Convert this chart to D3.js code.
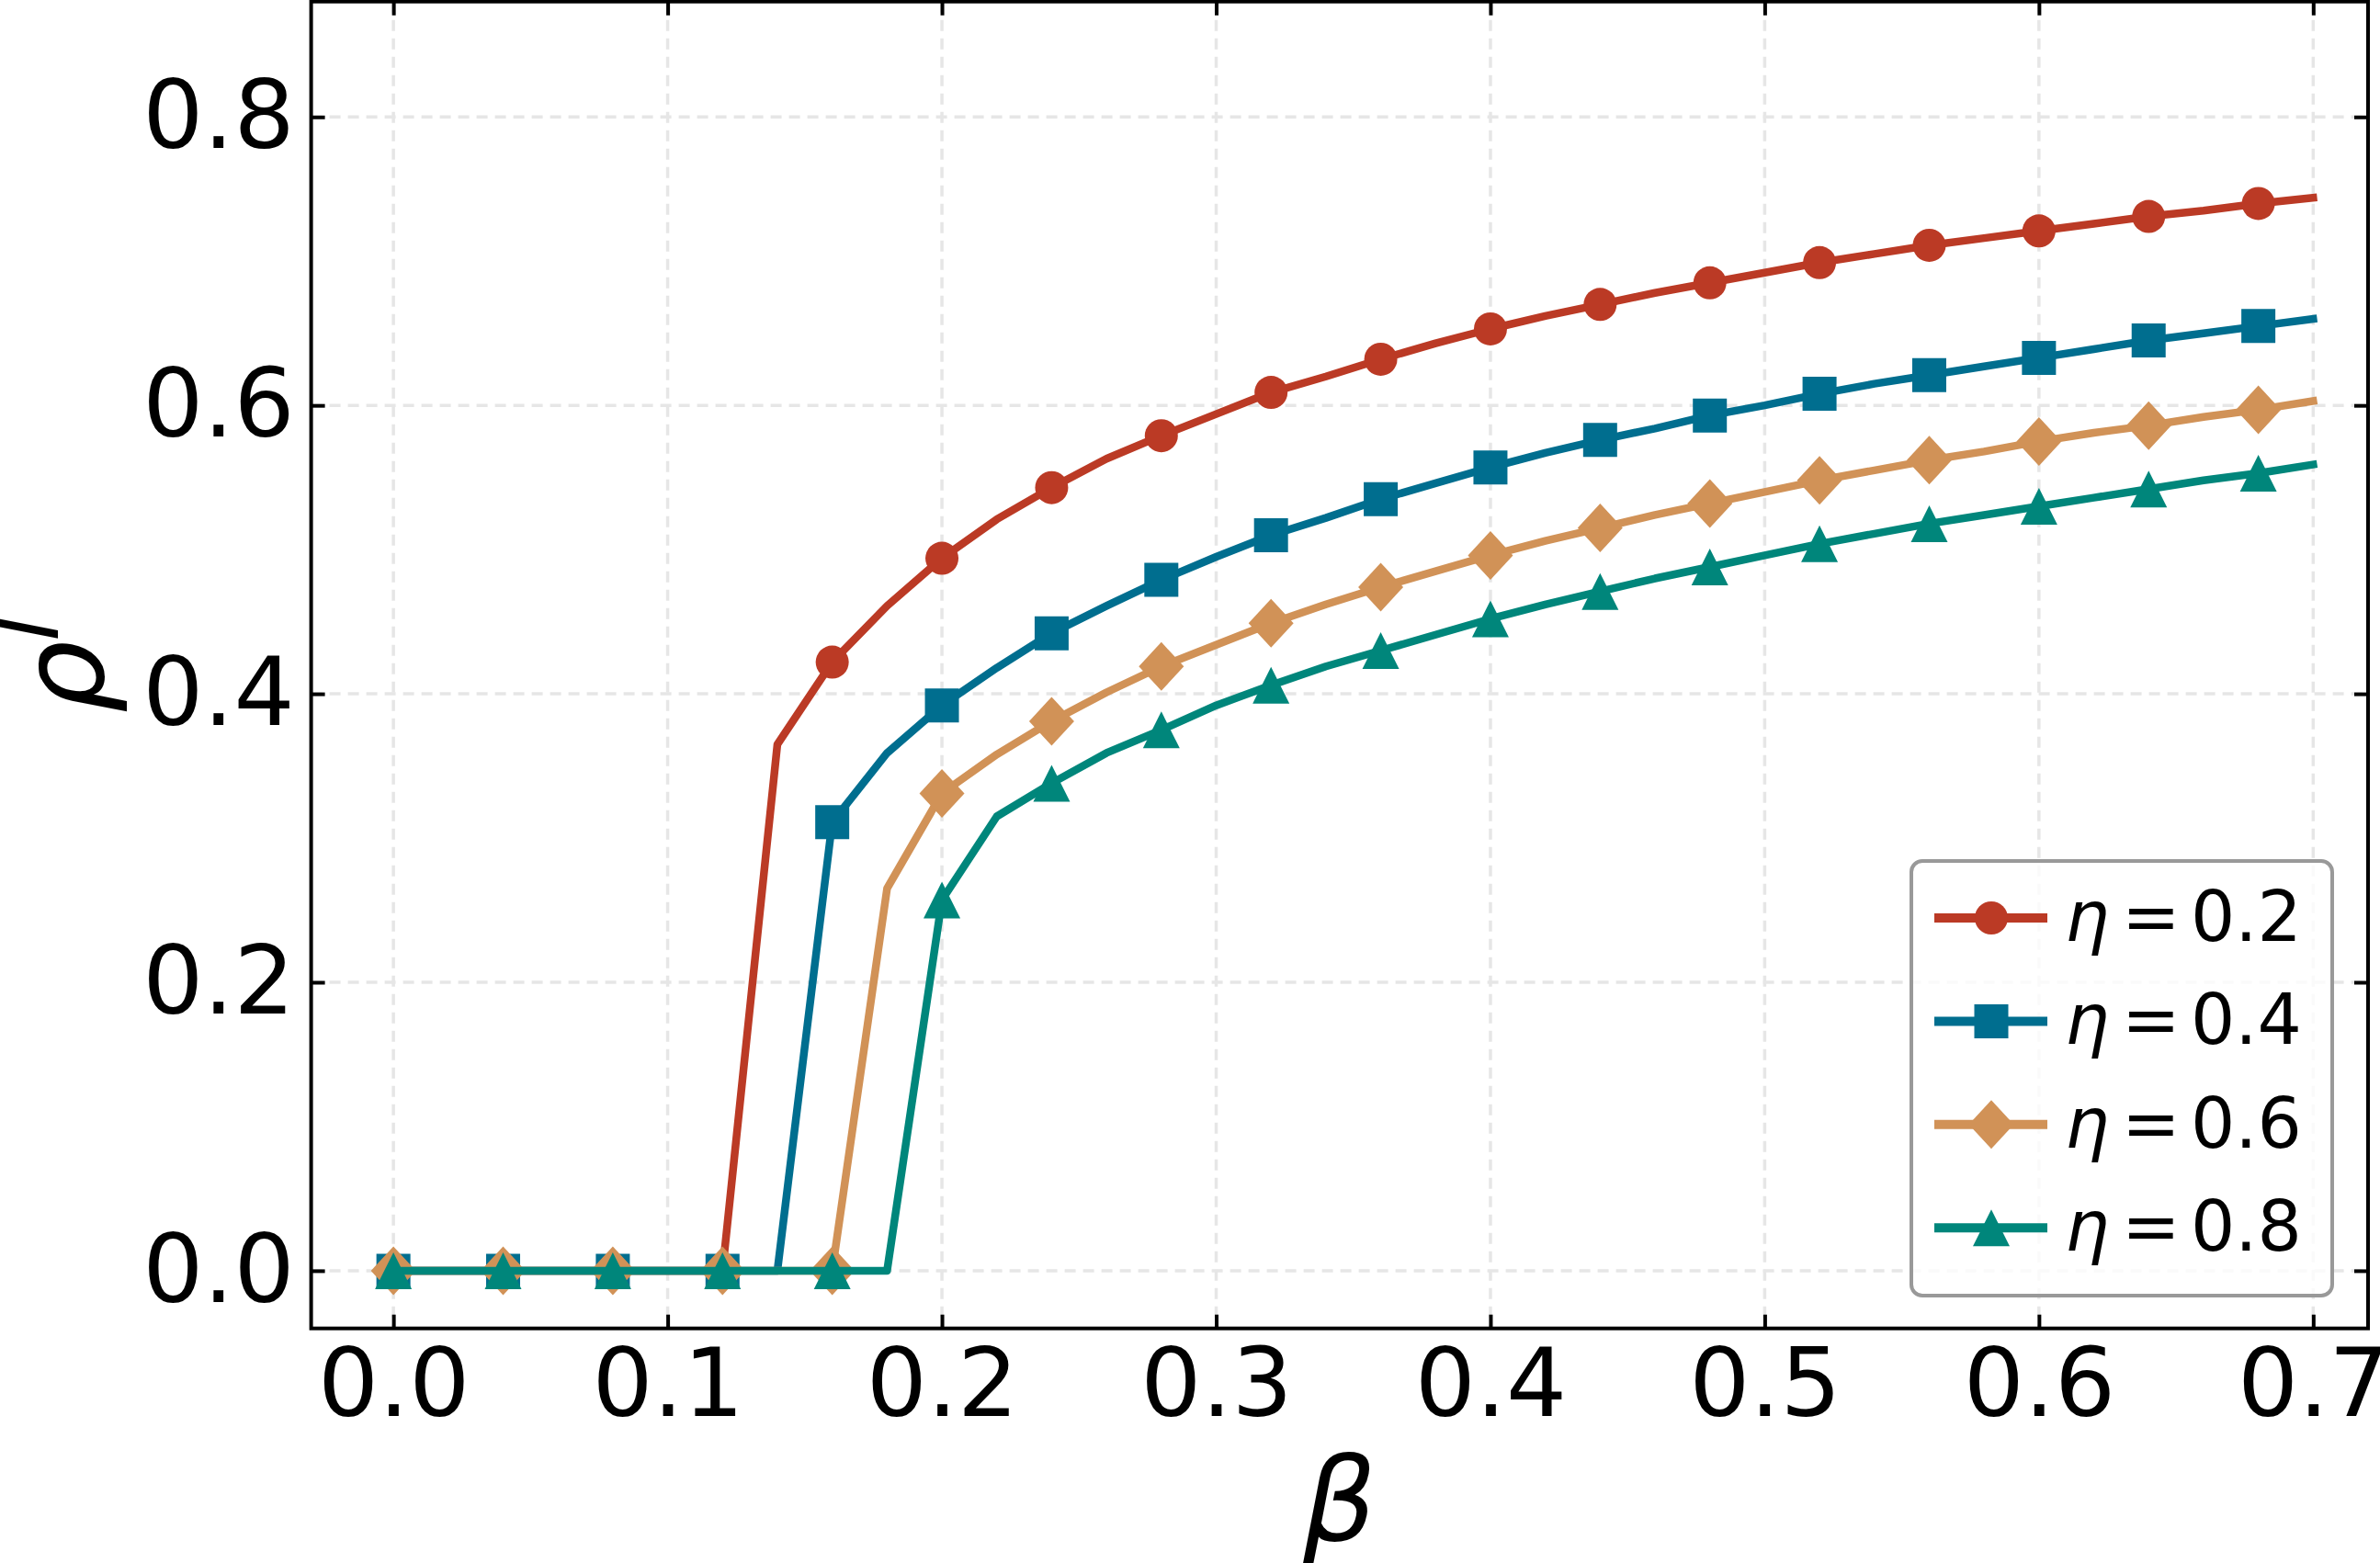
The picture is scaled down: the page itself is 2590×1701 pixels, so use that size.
<!DOCTYPE html>
<html>
<head>
<meta charset="utf-8">
<script src="https://cdn.jsdelivr.net/npm/d3@7"></script>
<style>
  body { margin: 0; background: #fff; }
  svg { display: block; font-family: "DejaVu Sans", sans-serif; }
</style>
</head>
<body>
<div id="chart"></div>
<script>
// beta values (x) and rho^I for each eta
const betaVals = [0.00, 0.02, 0.04, 0.06, 0.08, 0.10, 0.12, 0.14, 0.16, 0.18,
                  0.20, 0.22, 0.24, 0.26, 0.28, 0.30, 0.32, 0.34, 0.36, 0.38,
                  0.40, 0.42, 0.44, 0.46, 0.48, 0.50, 0.52, 0.54, 0.56, 0.58,
                  0.60, 0.62, 0.64, 0.66, 0.68, 0.70];
const rhoEta02 = [0, 0, 0, 0, 0, 0, 0, 0.365, 0.422, 0.461,
                  0.494, 0.521, 0.543, 0.563, 0.579, 0.594, 0.609, 0.620, 0.632, 0.643,
                  0.653, 0.662, 0.670, 0.678, 0.685, 0.692, 0.699, 0.705, 0.711, 0.716,
                  0.721, 0.726, 0.731, 0.735, 0.740, 0.744];
const rhoEta04 = [0, 0, 0, 0, 0, 0, 0, 0, 0.311, 0.359,
                  0.392, 0.418, 0.442, 0.461, 0.479, 0.495, 0.510, 0.522, 0.535, 0.546,
                  0.557, 0.567, 0.576, 0.584, 0.593, 0.600, 0.608, 0.615, 0.621, 0.627,
                  0.633, 0.639, 0.645, 0.650, 0.655, 0.660];
const rhoEta06 = [0, 0, 0, 0, 0, 0, 0, 0, 0, 0.265,
                  0.331, 0.358, 0.381, 0.401, 0.419, 0.434, 0.449, 0.462, 0.474, 0.485,
                  0.496, 0.506, 0.515, 0.524, 0.532, 0.540, 0.548, 0.555, 0.562, 0.568,
                  0.575, 0.581, 0.586, 0.592, 0.597, 0.603];
const rhoEta08 = [0, 0, 0, 0, 0, 0, 0, 0, 0, 0,
                  0.257, 0.315, 0.338, 0.359, 0.375, 0.392, 0.406, 0.419, 0.430, 0.441,
                  0.452, 0.462, 0.471, 0.480, 0.488, 0.496, 0.504, 0.511, 0.518, 0.524,
                  0.530, 0.536, 0.542, 0.548, 0.553, 0.559];
const etaLabels = ["0.2", "0.4", "0.6", "0.8"];
const seriesColors = ["#bb3a25", "#006e8f", "#d19257", "#00867b"];
const markerKinds = ["circle", "square", "diamond", "triangle"];
const xTicks = [0, 0.1, 0.2, 0.3, 0.4, 0.5, 0.6, 0.7];
const yTicks = [0, 0.2, 0.4, 0.6, 0.8];

const W = 2590, H = 1701;
const plot = { left: 338.6, right: 2577, top: 1.7, bottom: 1445.7 };

const svg = d3.select("#chart").append("svg")
    .attr("width", W).attr("height", H)
    .attr("viewBox", `0 0 ${W} ${H}`);

const x = d3.scaleLinear().domain([-0.03, 0.72]).range([plot.left, plot.right]);
const y = d3.scaleLinear().domain([-0.04, 0.88]).range([plot.bottom, plot.top]);

// grid
const grid = svg.append("g")
    .attr("stroke", "#e6e6e6").attr("stroke-width", 3.5)
    .attr("stroke-dasharray", "12,8");
grid.selectAll("line.gx").data(xTicks).enter().append("line")
    .attr("x1", d => x(d)).attr("x2", d => x(d))
    .attr("y1", plot.top).attr("y2", plot.bottom);
grid.selectAll("line.gy").data(yTicks).enter().append("line")
    .attr("y1", d => y(d)).attr("y2", d => y(d))
    .attr("x1", plot.left).attr("x2", plot.right);

// axes, ticks pointing in
const fmt = d3.format(".1f");
function styleAxis(g) {
    g.select(".domain").remove();
    g.selectAll(".tick line").attr("stroke", "#000").attr("stroke-width", 4);
    g.selectAll(".tick text").attr("fill", "#000").attr("font-size", 104)
        .attr("font-family", "DejaVu Sans");
}
svg.append("g").attr("transform", `translate(0,${plot.bottom})`)
    .call(d3.axisBottom(x).tickValues(xTicks).tickFormat(fmt)
        .tickSizeInner(-15).tickSizeOuter(0).tickPadding(21))
    .call(styleAxis);
svg.append("g").attr("transform", `translate(${plot.left},0)`)
    .call(d3.axisLeft(y).tickValues(yTicks).tickFormat(fmt)
        .tickSizeInner(-15).tickSizeOuter(0).tickPadding(18))
    .call(styleAxis);
svg.append("g").attr("transform", `translate(0,${plot.top})`)
    .call(d3.axisTop(x).tickValues(xTicks).tickFormat("")
        .tickSizeInner(-15).tickSizeOuter(0))
    .call(styleAxis);
svg.append("g").attr("transform", `translate(${plot.right},0)`)
    .call(d3.axisRight(y).tickValues(yTicks).tickFormat("")
        .tickSizeInner(-15).tickSizeOuter(0))
    .call(styleAxis);

// marker shapes
function markerPath(kind) {
    if (kind === "circle") return d3.path().arc ? (() => { const p = d3.path(); p.arc(0, 0, 18, 0, 2 * Math.PI); return p.toString(); })() : "";
    if (kind === "square") return "M-18.5,-18.5H18.5V18.5H-18.5Z";
    if (kind === "diamond") return "M0,-26.5L24.5,0L0,26.5L-24.5,0Z";
    return "M0,-20L20,20H-20Z";
}

// series
const allSeries = [rhoEta02, rhoEta04, rhoEta06, rhoEta08];
const line = d3.line().x((d, i) => x(betaVals[i])).y(d => y(d));

allSeries.forEach((vals, s) => {
    const g = svg.append("g");
    g.append("path")
        .attr("d", line(vals))
        .attr("fill", "none")
        .attr("stroke", seriesColors[s])
        .attr("stroke-width", 8.5)
        .attr("stroke-linejoin", "round")
        .attr("stroke-linecap", "square");
    g.selectAll("path.mk")
        .data(vals.map((v, i) => [betaVals[i], v]).filter((d, i) => i % 2 === 0 && i < 35))
        .enter().append("path")
        .attr("class", "mk")
        .attr("transform", d => `translate(${x(d[0])},${y(d[1])})`)
        .attr("d", markerPath(markerKinds[s]))
        .attr("fill", seriesColors[s]);
});

// frame
svg.append("rect")
    .attr("x", plot.left).attr("y", plot.top)
    .attr("width", plot.right - plot.left).attr("height", plot.bottom - plot.top)
    .attr("fill", "none").attr("stroke", "#000").attr("stroke-width", 4);

// legend
const leg = svg.append("g");
leg.append("rect")
    .attr("x", 2080).attr("y", 937).attr("width", 458).attr("height", 473)
    .attr("rx", 12).attr("ry", 12)
    .attr("fill", "#fff").attr("fill-opacity", 0.8)
    .attr("stroke", "#999").attr("stroke-width", 4);
etaLabels.forEach((lab, s) => {
    const cy = 999 + s * 112.4;
    leg.append("line")
        .attr("x1", 2105).attr("x2", 2228).attr("y1", cy).attr("y2", cy)
        .attr("stroke", seriesColors[s]).attr("stroke-width", 10);
    leg.append("path")
        .attr("transform", `translate(2167,${cy})`)
        .attr("d", markerPath(markerKinds[s]))
        .attr("fill", seriesColors[s]);
    const t = leg.append("text")
        .attr("x", 2247).attr("y", cy + 25)
        .attr("font-size", 76).attr("fill", "#000");
    t.append("tspan").attr("font-style", "italic").text("η");
    t.append("tspan").attr("x", 2309).text("=");
    t.append("tspan").attr("x", 2384).text(lab);
});

// axis labels
svg.append("text")
    .attr("x", (plot.left + plot.right) / 2).attr("y", 1676)
    .attr("text-anchor", "middle")
    .attr("font-size", 125).attr("font-style", "italic")
    .text("β");

const yl = svg.append("text")
    .attr("transform", `translate(112,${(plot.top + plot.bottom) / 2}) rotate(-90)`)
    .attr("text-anchor", "middle")
    .attr("font-size", 125).attr("font-style", "italic");
yl.append("tspan").text("ρ");
yl.append("tspan").attr("font-size", 88).attr("dy", -49).text("I");
</script>
</body>
</html>
